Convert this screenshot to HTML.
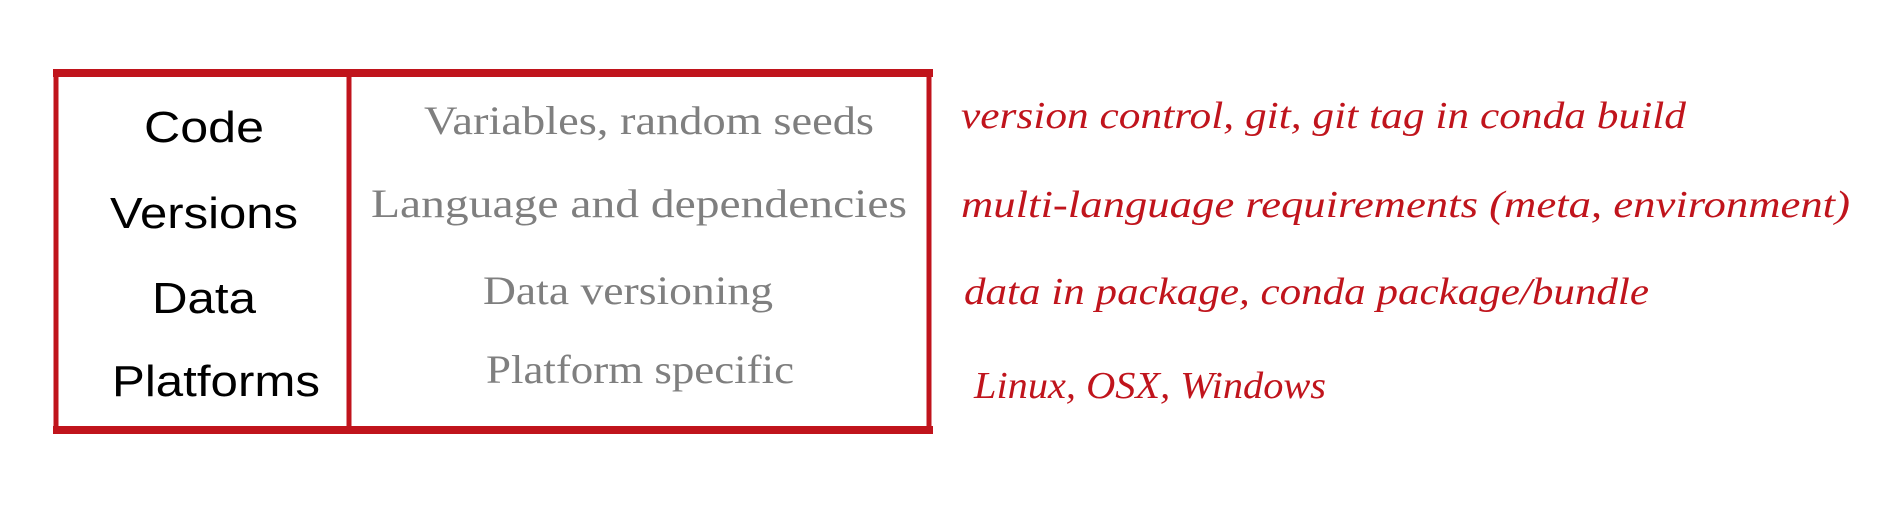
<!DOCTYPE html>
<html><head><meta charset="utf-8"><style>
html,body{margin:0;padding:0;background:#fff;width:1898px;height:512px;overflow:hidden}
</style></head><body>
<svg width="1898" height="512" viewBox="0 0 1898 512">
<g fill="none" stroke="#c0141c">
<line x1="53" y1="73" x2="933" y2="73" stroke-width="8"/>
<line x1="53" y1="430" x2="933" y2="430" stroke-width="8"/>
<line x1="56" y1="72" x2="56" y2="432" stroke-width="5"/>
<line x1="929" y1="72" x2="929" y2="432" stroke-width="5"/>
<line x1="349" y1="72" x2="349" y2="432" stroke-width="5"/>
</g>
<g font-family="'Liberation Sans',sans-serif" font-size="44" fill="#000">
<text x="144" y="142" textLength="120" lengthAdjust="spacingAndGlyphs">Code</text>
<text x="110" y="228" textLength="188" lengthAdjust="spacingAndGlyphs">Versions</text>
<text x="152" y="313" textLength="104" lengthAdjust="spacingAndGlyphs">Data</text>
<text x="112" y="396" textLength="208" lengthAdjust="spacingAndGlyphs">Platforms</text>
</g>
<g font-family="'Liberation Serif',serif" font-size="40" fill="#7f7f7f">
<text x="424" y="134" textLength="450" lengthAdjust="spacingAndGlyphs">Variables, random seeds</text>
<text x="371" y="217" textLength="536" lengthAdjust="spacingAndGlyphs">Language and dependencies</text>
<text x="483" y="304" textLength="290" lengthAdjust="spacingAndGlyphs">Data versioning</text>
<text x="486" y="383" textLength="308" lengthAdjust="spacingAndGlyphs">Platform specific</text>
</g>
<g font-family="'Liberation Serif',serif" font-style="italic" font-size="38" fill="#c0141c">
<text x="961" y="128" textLength="725" lengthAdjust="spacingAndGlyphs">version control, git, git tag in conda build</text>
<text x="961" y="217" textLength="889" lengthAdjust="spacingAndGlyphs">multi-language requirements (meta, environment)</text>
<text x="964" y="304" textLength="685" lengthAdjust="spacingAndGlyphs">data in package, conda package/bundle</text>
<text x="974" y="398" textLength="352" lengthAdjust="spacingAndGlyphs">Linux, OSX, Windows</text>
</g>
</svg>
</body></html>
